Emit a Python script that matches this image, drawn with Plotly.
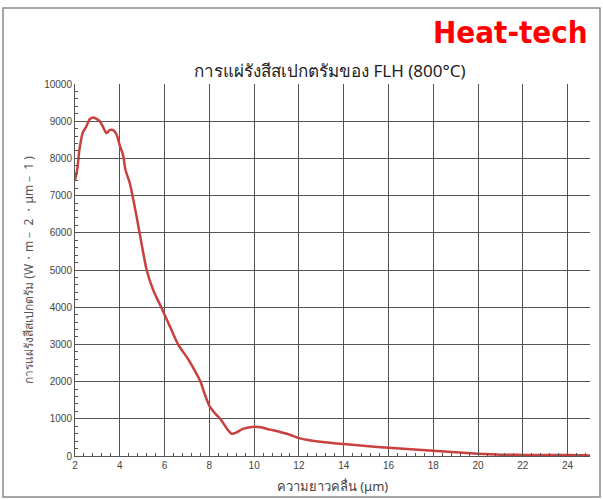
import plotly.graph_objects as go

wavelength = [2.0, 2.1, 2.2, 2.35, 2.5, 2.65, 2.8, 2.9, 3.1, 3.25, 3.4, 3.55, 3.7, 3.85,
              4.0, 4.15, 4.25, 4.45, 4.7, 4.9, 5.2, 5.5, 5.85, 6.0, 6.3, 6.6, 7.0, 7.3, 7.6,
              7.8, 8.0, 8.25, 8.55, 8.8, 9.0, 9.2, 9.5, 9.9, 10.3, 10.7, 11.2, 11.6, 12.0,
              12.6, 13.3, 14, 15, 16, 17, 18, 19, 20, 21, 22, 23, 24, 25]
radiance = [7420, 7700, 8250, 8700, 8850, 9050, 9100, 9080, 9000, 8850, 8680, 8760, 8760, 8650,
            8350, 8080, 7700, 7330, 6600, 5950, 5000, 4450, 4000, 3800, 3400, 3000, 2650, 2350, 2000,
            1650, 1350, 1150, 950, 720, 600, 630, 730, 780, 770, 710, 640, 570, 480,
            410, 360, 320, 270, 220, 180, 140, 100, 60, 35, 30, 25, 25, 15]

title_text = "การแผ่รังสีสเปกตรัมของ FLH (800°C)"
x_title = "ความยาวคลื่น (μm)"
y_title = "การแผ่รังสีสเปกตรัม (W・m－ 2 ・μm－ 1 )"
logo_text = "Heat-tech"

fig = go.Figure()
fig.add_trace(go.Scatter(x=wavelength, y=radiance, mode="lines",
                         line=dict(color="#c9413f", width=2.5, shape="spline", smoothing=0.6),
                         showlegend=False))

grid = "#555555"
fig.update_xaxes(range=[2, 25], dtick=2, tick0=0, showgrid=True, gridcolor=grid, gridwidth=1,
                 showline=True, linecolor=grid, linewidth=1, zeroline=False, automargin=False,
                 ticks="inside", ticklen=5, tickcolor=grid,
                 minor=dict(dtick=0.4, tick0=0, ticks="inside", ticklen=3, tickcolor=grid, showgrid=False),
                 tickfont=dict(size=10, color="#444", family="Liberation Sans"),
                 title=dict(text=x_title, font=dict(size=13, color="#444"), standoff=11))
fig.update_yaxes(range=[0, 10000], dtick=1000, tickformat="d", showgrid=True, gridcolor=grid, gridwidth=1,
                 showline=True, linecolor=grid, linewidth=1, zeroline=False, automargin=False,
                 ticks="inside", ticklen=5, tickcolor=grid,
                 minor=dict(dtick=200, ticks="inside", ticklen=3, tickcolor=grid, showgrid=False),
                 tickfont=dict(size=10, color="#444", family="Liberation Sans"),
                 title=dict(text=y_title, font=dict(size=12, color="#555"), standoff=7))

fig.add_annotation(text=title_text, xref="paper", yref="paper", x=(330 - 75) / 515, y=(456 - 70) / 372,
                   showarrow=False, xanchor="center", yanchor="middle",
                   font=dict(size=17, color="#222"))
fig.add_annotation(text="<b>" + logo_text + "</b>", xref="paper", yref="paper",
                   x=(590 - 75) / 515, y=(456 - 32) / 372, showarrow=False,
                   xanchor="right", yanchor="middle",
                   font=dict(size=31, color="#ff0000", family="DejaVu Sans Condensed"))
fig.add_shape(type="rect", xref="paper", yref="paper",
              x0=(3 - 75) / 515, x1=(600 - 75) / 515, y0=(456 - 497) / 372, y1=(456 - 8) / 372,
              line=dict(color="#888", width=1.5), fillcolor="rgba(0,0,0,0)", layer="below")

fig.update_layout(width=603, height=499, margin=dict(l=75, r=13, t=84, b=43),
                  paper_bgcolor="white", plot_bgcolor="white",
                  font=dict(family="Noto Sans, Liberation Sans, sans-serif"))
fig.write_html("out.html", config={"displayModeBar": False},
               post_script="document.body.style.margin='0';document.body.style.overflow='hidden';")
